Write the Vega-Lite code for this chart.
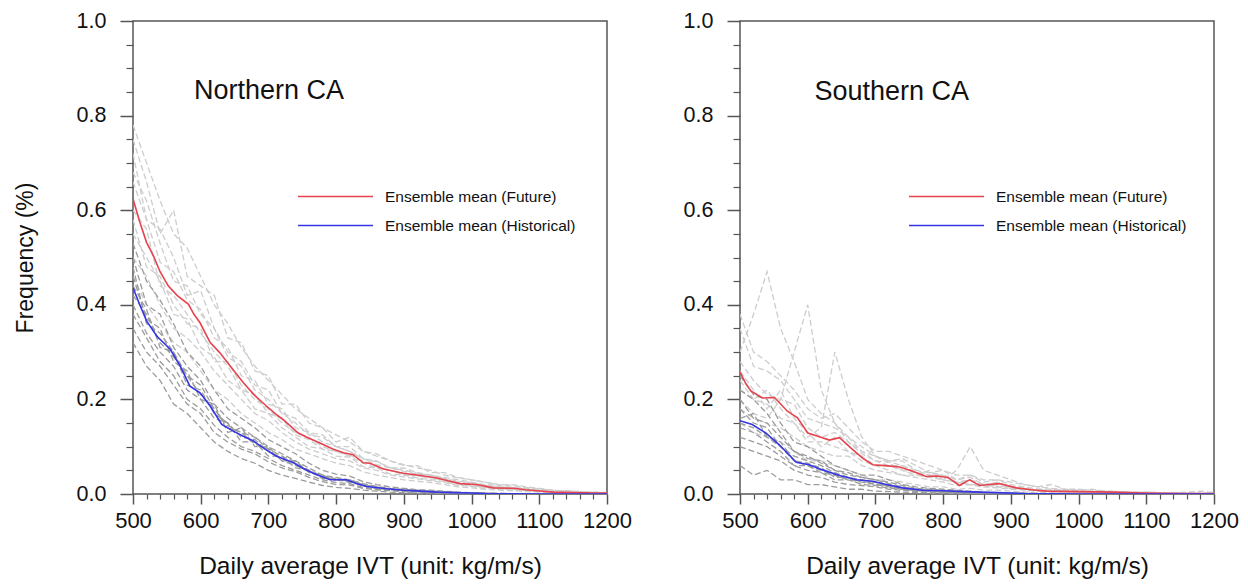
{
 "$schema": "https://vega.github.io/schema/vega-lite/v6.json",
 "background": "white",
 "padding": {"left": 13, "top": 9, "right": 5, "bottom": 2},
 "datasets": {
  "labels": [{"panel": "N", "name": "Northern CA"}, {"panel": "S", "name": "Southern CA"}],
  "means": [
   {"panel": "N", "series": "Ensemble mean (Future)", "x": [500,510,520,530,540,552,565,582,590,599,614,628,645,663,680,697,710,722,744,760,776,795,811,825,840,850,870,899,925,949,965,983,1007,1032,1062,1080,1096,1121,1150,1180,1200], "y": [0.624,0.575,0.532,0.504,0.47,0.44,0.42,0.401,0.38,0.362,0.32,0.299,0.268,0.235,0.208,0.186,0.17,0.157,0.129,0.118,0.108,0.095,0.087,0.083,0.066,0.065,0.053,0.044,0.039,0.034,0.028,0.022,0.02,0.013,0.012,0.009,0.007,0.004,0.003,0.002,0.002]},
   {"panel": "N", "series": "Ensemble mean (Historical)", "x": [500,510,520,535,555,570,584,599,614,631,648,663,678,695,712,737,750,766,791,815,830,845,875,900,924,950,973,1000,1020,1060,1100,1200], "y": [0.436,0.4,0.366,0.334,0.306,0.27,0.228,0.214,0.186,0.147,0.133,0.122,0.112,0.095,0.08,0.066,0.055,0.044,0.03,0.03,0.022,0.016,0.011,0.008,0.006,0.004,0.003,0.002,0.001,0.0005,0,0]},
   {"panel": "S", "series": "Ensemble mean (Future)", "x": [500,508,516,533,551,570,585,600,615,632,647,664,681,696,714,736,755,775,790,807,824,839,854,868,883,908,930,952,1000,1050,1098,1150,1200], "y": [0.258,0.235,0.218,0.203,0.204,0.175,0.161,0.129,0.122,0.114,0.119,0.097,0.076,0.062,0.06,0.057,0.048,0.037,0.038,0.035,0.018,0.03,0.018,0.02,0.022,0.013,0.009,0.006,0.005,0.004,0.002,0.001,0.001]},
   {"panel": "S", "series": "Ensemble mean (Historical)", "x": [500,518,538,558,583,602,622,647,672,696,716,740,770,800,830,879,920,1000,1200], "y": [0.155,0.147,0.129,0.104,0.067,0.062,0.051,0.039,0.03,0.027,0.02,0.013,0.008,0.007,0.005,0.003,0.001,0,0]}
  ],
  "members": [
   {"panel":"N","grp":"F","id":"NF1","x":[500,520,540,560,580,600,620,640,660,680,700,720,740,760,780,800,820,840,860,880,900,920,940,960,980,1000,1020,1040,1060,1080,1100,1120,1140,1160,1180,1200],"y":[0.78,0.70,0.62,0.55,0.52,0.46,0.40,0.36,0.31,0.27,0.24,0.21,0.18,0.16,0.14,0.125,0.11,0.09,0.085,0.07,0.062,0.055,0.05,0.04,0.034,0.03,0.025,0.02,0.018,0.014,0.011,0.008,0.006,0.005,0.004,0.003]},
   {"panel":"N","grp":"F","id":"NF2","x":[500,520,540,560,580,600,620,640,660,680,700,720,740,760,780,800,820,840,860,880,900,920,940,960,980,1000,1020,1040,1060,1080,1100,1120,1140,1160,1180,1200],"y":[0.46,0.40,0.36,0.32,0.30,0.26,0.22,0.20,0.17,0.15,0.13,0.115,0.095,0.085,0.075,0.065,0.06,0.047,0.04,0.035,0.03,0.027,0.024,0.02,0.015,0.013,0.01,0.008,0.007,0.005,0.004,0.002,0.002,0.001,0.001,0.001]},
   {"panel":"N","grp":"F","id":"NF3","x":[500,520,540,560,580,600,620,640,660,680,700,720,740,760,780,800,820,840,860,880,900,920,940,960,980,1000,1020,1040,1060,1080,1100,1120,1140,1160,1180,1200],"y":[0.66,0.58,0.49,0.47,0.41,0.39,0.33,0.31,0.25,0.24,0.19,0.18,0.14,0.13,0.11,0.10,0.09,0.075,0.062,0.055,0.048,0.042,0.04,0.032,0.025,0.022,0.018,0.014,0.013,0.01,0.008,0.005,0.004,0.003,0.003,0.002]},
   {"panel":"N","grp":"F","id":"NF4","x":[500,520,540,560,580,600,620,640,660,680,700,720,740,760,780,800,820,840,860,880,900,920,940,960,980,1000,1020,1040,1060,1080,1100,1120,1140,1160,1180,1200],"y":[0.55,0.50,0.45,0.38,0.37,0.31,0.29,0.24,0.22,0.18,0.17,0.14,0.12,0.10,0.095,0.08,0.078,0.058,0.055,0.042,0.04,0.034,0.03,0.026,0.02,0.017,0.014,0.011,0.01,0.007,0.006,0.004,0.003,0.002,0.002,0.001]},
   {"panel":"N","grp":"F","id":"NF5","x":[500,520,540,560,580,600,620,640,660,680,700,720,740,760,780,800,820,840,860,880,900,920,940,960,980,1000,1020,1040,1060,1080,1100,1120,1140,1160,1180,1200],"y":[0.72,0.58,0.56,0.50,0.42,0.43,0.35,0.30,0.28,0.23,0.22,0.17,0.16,0.13,0.125,0.10,0.10,0.075,0.07,0.055,0.055,0.045,0.04,0.035,0.03,0.025,0.02,0.018,0.014,0.012,0.009,0.007,0.005,0.004,0.003,0.003]},
   {"panel":"N","grp":"F","id":"NF6","x":[500,520,540,560,580,600,620,640,660,680,700,720,740,760,780,800,820,840,860,880,900,920,940,960,980,1000,1020,1040,1060,1080,1100,1120,1140,1160,1180,1200],"y":[0.60,0.56,0.44,0.42,0.38,0.34,0.30,0.27,0.22,0.21,0.17,0.16,0.125,0.115,0.095,0.09,0.08,0.065,0.055,0.05,0.04,0.04,0.032,0.03,0.022,0.02,0.015,0.013,0.011,0.009,0.006,0.004,0.003,0.003,0.002,0.002]},
   {"panel":"N","grp":"F","id":"NF7","x":[500,520,540,560,580,600,620,640,660,680,700,720,740,760,780,800,820,840,860,880,900,920,940,960,980,1000,1020,1040,1060,1080,1100,1120,1140,1160,1180,1200],"y":[0.68,0.62,0.53,0.45,0.44,0.38,0.35,0.29,0.27,0.22,0.20,0.17,0.15,0.125,0.12,0.1,0.09,0.074,0.068,0.056,0.05,0.044,0.04,0.033,0.027,0.024,0.018,0.016,0.013,0.01,0.008,0.005,0.004,0.003,0.002,0.002]},
   {"panel":"N","grp":"F","id":"NF8","x":[500,520,540,560,580,600,620,640,660,680,700,720,740,760,780,800,820,840,860,880,900,920,940,960,980,1000,1020,1040,1060,1080,1100,1120,1140,1160,1180,1200],"y":[0.50,0.46,0.40,0.35,0.33,0.30,0.26,0.23,0.20,0.17,0.155,0.13,0.11,0.095,0.085,0.075,0.07,0.055,0.05,0.04,0.036,0.032,0.028,0.024,0.018,0.016,0.012,0.01,0.009,0.007,0.005,0.003,0.002,0.002,0.001,0.001]},
   {"panel":"N","grp":"F","id":"NF9","x":[500,520,540,560,580,600,620,640,660,680,700,720,740,760,780,800,820,840,860,880,900,920,940,960,980,1000,1020,1040,1060,1080,1100,1120,1140,1160,1180,1200],"y":[0.75,0.66,0.55,0.60,0.46,0.44,0.42,0.33,0.32,0.26,0.25,0.19,0.19,0.15,0.14,0.11,0.12,0.09,0.08,0.07,0.06,0.06,0.045,0.045,0.035,0.03,0.025,0.02,0.02,0.015,0.012,0.008,0.007,0.005,0.004,0.003]},
   {"panel":"N","grp":"F","id":"NF10","x":[500,520,540,560,580,600,620,640,660,680,700,720,740,760,780,800,820,840,860,880,900,920,940,960,980,1000,1020,1040,1060,1080,1100,1120,1140,1160,1180,1200],"y":[0.58,0.48,0.46,0.40,0.36,0.35,0.28,0.28,0.23,0.20,0.18,0.15,0.13,0.12,0.10,0.09,0.082,0.07,0.058,0.05,0.043,0.038,0.035,0.028,0.022,0.02,0.016,0.012,0.012,0.008,0.006,0.004,0.003,0.002,0.002,0.001]},
   {"panel":"N","grp":"H","id":"NH1","x":[500,520,540,560,580,600,620,640,660,680,700,720,740,760,780,800,820,840,860,880,900,920,940,960,980,1000,1020,1040,1060,1080,1100,1120,1140,1160,1180,1200],"y":[0.53,0.45,0.41,0.36,0.30,0.27,0.22,0.18,0.16,0.14,0.115,0.10,0.085,0.065,0.05,0.042,0.038,0.026,0.02,0.015,0.012,0.009,0.008,0.006,0.004,0.003,0.002,0.002,0.001,0.001,0.001,0,0,0,0,0]},
   {"panel":"N","grp":"H","id":"NH2","x":[500,520,540,560,580,600,620,640,660,680,700,720,740,760,780,800,820,840,860,880,900,920,940,960,980,1000,1020,1040,1060,1080,1100,1120,1140,1160,1180,1200],"y":[0.35,0.30,0.27,0.23,0.19,0.17,0.13,0.11,0.095,0.085,0.068,0.055,0.047,0.035,0.026,0.02,0.019,0.012,0.009,0.007,0.005,0.004,0.003,0.002,0.002,0.001,0.001,0,0,0,0,0,0,0,0,0]},
   {"panel":"N","grp":"H","id":"NH3","x":[500,520,540,560,580,600,620,640,660,680,700,720,740,760,780,800,820,840,860,880,900,920,940,960,980,1000,1020,1040,1060,1080,1100,1120,1140,1160,1180,1200],"y":[0.46,0.37,0.35,0.28,0.26,0.20,0.19,0.13,0.14,0.10,0.10,0.07,0.07,0.045,0.04,0.028,0.03,0.016,0.015,0.009,0.009,0.005,0.006,0.003,0.003,0.001,0.002,0.001,0,0,0,0,0,0,0,0]},
   {"panel":"N","grp":"H","id":"NH4","x":[500,520,540,560,580,600,620,640,660,680,700,720,740,760,780,800,820,840,860,880,900,920,940,960,980,1000,1020,1040,1060,1080,1100,1120,1140,1160,1180,1200],"y":[0.40,0.34,0.30,0.27,0.22,0.20,0.16,0.15,0.11,0.11,0.08,0.08,0.055,0.05,0.032,0.033,0.024,0.02,0.011,0.011,0.007,0.007,0.004,0.004,0.002,0.002,0.001,0.001,0.001,0,0,0,0,0,0,0]},
   {"panel":"N","grp":"H","id":"NH5","x":[500,520,540,560,580,600,620,640,660,680,700,720,740,760,780,800,820,840,860,880,900,920,940,960,980,1000,1020,1040,1060,1080,1100,1120,1140,1160,1180,1200],"y":[0.50,0.40,0.38,0.31,0.27,0.24,0.19,0.16,0.14,0.12,0.10,0.085,0.07,0.055,0.04,0.035,0.03,0.022,0.016,0.012,0.01,0.008,0.006,0.005,0.003,0.003,0.002,0.001,0.001,0.001,0,0,0,0,0,0]},
   {"panel":"N","grp":"H","id":"NH6","x":[500,520,540,560,580,600,620,640,660,680,700,720,740,760,780,800,820,840,860,880,900,920,940,960,980,1000,1020,1040,1060,1080,1100,1120,1140,1160,1180,1200],"y":[0.38,0.33,0.28,0.25,0.20,0.18,0.145,0.12,0.10,0.09,0.075,0.06,0.05,0.04,0.03,0.024,0.022,0.014,0.01,0.008,0.006,0.005,0.004,0.003,0.002,0.001,0.001,0,0,0,0,0,0,0,0,0]},
   {"panel":"N","grp":"H","id":"NH7","x":[500,520,540,560,580,600,620,640,660,680,700,720,740,760,780,800,820,840,860,880,900,920,940,960,980,1000,1020,1040,1060,1080,1100,1120,1140,1160,1180,1200],"y":[0.44,0.39,0.31,0.30,0.23,0.22,0.17,0.15,0.12,0.115,0.09,0.075,0.065,0.048,0.038,0.03,0.028,0.019,0.014,0.01,0.008,0.006,0.005,0.004,0.003,0.002,0.001,0.001,0,0,0,0,0,0,0,0]},
   {"panel":"N","grp":"H","id":"NH8","x":[500,520,540,560,580,600,620,640,660,680,700,720,740,760,780,800,820,840,860,880,900,920,940,960,980,1000,1020,1040,1060,1080,1100,1120,1140,1160,1180,1200],"y":[0.32,0.27,0.24,0.19,0.17,0.14,0.11,0.09,0.075,0.065,0.05,0.04,0.033,0.025,0.018,0.014,0.012,0.008,0.006,0.004,0.003,0.002,0.002,0.001,0.001,0,0,0,0,0,0,0,0,0,0,0]},
   {"panel":"N","grp":"H","id":"NH9","x":[500,520,540,560,580,600,620,640,660,680,700,720,740,760,780,800,820,840,860,880,900,920,940,960,980,1000,1020,1040,1060,1080,1100,1120,1140,1160,1180,1200],"y":[0.48,0.36,0.34,0.30,0.25,0.21,0.18,0.14,0.13,0.105,0.095,0.07,0.06,0.05,0.035,0.03,0.026,0.018,0.012,0.01,0.007,0.006,0.004,0.004,0.002,0.002,0.001,0.001,0,0,0,0,0,0,0,0]},
   {"panel":"N","grp":"H","id":"NH10","x":[500,520,540,560,580,600,620,640,660,680,700,720,740,760,780,800,820,840,860,880,900,920,940,960,980,1000,1020,1040,1060,1080,1100,1120,1140,1160,1180,1200],"y":[0.42,0.38,0.32,0.29,0.25,0.23,0.18,0.145,0.13,0.12,0.095,0.08,0.068,0.05,0.038,0.032,0.03,0.02,0.014,0.011,0.009,0.007,0.005,0.004,0.003,0.002,0.001,0.001,0.001,0,0,0,0,0,0,0]},
   {"panel":"S","grp":"F","id":"SF1","x":[500,520,540,560,580,600,620,640,660,680,700,720,740,760,780,800,820,840,860,880,900,920,940,960,980,1000,1020,1040,1060,1080,1100,1120,1140,1160,1180,1200],"y":[0.30,0.38,0.47,0.35,0.28,0.20,0.17,0.15,0.12,0.10,0.08,0.07,0.07,0.05,0.045,0.04,0.03,0.035,0.02,0.025,0.015,0.012,0.01,0.008,0.006,0.005,0.004,0.004,0.003,0.003,0.002,0.002,0.001,0.002,0.001,0.001]},
   {"panel":"S","grp":"F","id":"SF2","x":[500,520,540,560,580,600,620,640,660,680,700,720,740,760,780,800,820,840,860,880,900,920,940,960,980,1000,1020,1040,1060,1080,1100,1120,1140,1160,1180,1200],"y":[0.20,0.17,0.16,0.20,0.30,0.40,0.22,0.15,0.11,0.09,0.07,0.06,0.06,0.045,0.04,0.03,0.025,0.03,0.02,0.015,0.012,0.01,0.008,0.006,0.005,0.004,0.004,0.003,0.002,0.002,0.002,0.001,0.001,0.001,0.001,0.001]},
   {"panel":"S","grp":"F","id":"SF3","x":[500,520,540,560,580,600,620,640,660,680,700,720,740,760,780,800,820,840,860,880,900,920,940,960,980,1000,1020,1040,1060,1080,1100,1120,1140,1160,1180,1200],"y":[0.24,0.20,0.19,0.16,0.15,0.12,0.14,0.30,0.20,0.12,0.08,0.065,0.05,0.04,0.05,0.03,0.025,0.02,0.015,0.02,0.012,0.01,0.007,0.006,0.006,0.004,0.003,0.004,0.002,0.002,0.001,0.001,0.001,0.001,0.001,0.001]},
   {"panel":"S","grp":"F","id":"SF4","x":[500,520,540,560,580,600,620,640,660,680,700,720,740,760,780,800,820,840,860,880,900,920,940,960,980,1000,1020,1040,1060,1080,1100,1120,1140,1160,1180,1200],"y":[0.15,0.13,0.12,0.11,0.09,0.07,0.07,0.06,0.05,0.04,0.03,0.03,0.025,0.02,0.015,0.015,0.01,0.012,0.008,0.008,0.006,0.004,0.003,0.003,0.002,0.002,0.001,0.001,0.001,0,0,0,0,0,0,0]},
   {"panel":"S","grp":"F","id":"SF5","x":[500,520,540,560,580,600,620,640,660,680,700,720,740,760,780,800,820,840,860,880,900,920,940,960,980,1000,1020,1040,1060,1080,1100,1120,1140,1160,1180,1200],"y":[0.35,0.27,0.26,0.24,0.20,0.16,0.15,0.14,0.12,0.09,0.08,0.07,0.075,0.06,0.045,0.05,0.03,0.04,0.025,0.03,0.02,0.015,0.01,0.01,0.008,0.007,0.005,0.006,0.004,0.003,0.003,0.002,0.002,0.002,0.001,0.001]},
   {"panel":"S","grp":"F","id":"SF6","x":[500,520,540,560,580,600,620,640,660,680,700,720,740,760,780,800,820,840,860,880,900,920,940,960,980,1000,1020,1040,1060,1080,1100,1120,1140,1160,1180,1200],"y":[0.22,0.20,0.22,0.18,0.15,0.11,0.11,0.10,0.09,0.07,0.06,0.05,0.04,0.04,0.035,0.03,0.05,0.10,0.05,0.04,0.03,0.02,0.015,0.02,0.01,0.008,0.01,0.006,0.005,0.004,0.004,0.003,0.003,0.004,0.006,0.003]},
   {"panel":"S","grp":"F","id":"SF7","x":[500,520,540,560,580,600,620,640,660,680,700,720,740,760,780,800,820,840,860,880,900,920,940,960,980,1000,1020,1040,1060,1080,1100,1120,1140,1160,1180,1200],"y":[0.28,0.24,0.21,0.20,0.19,0.14,0.12,0.13,0.11,0.085,0.07,0.068,0.06,0.05,0.04,0.04,0.022,0.03,0.02,0.022,0.015,0.012,0.008,0.008,0.006,0.006,0.005,0.004,0.003,0.003,0.002,0.002,0.001,0.001,0.001,0.001]},
   {"panel":"S","grp":"F","id":"SF8","x":[500,520,540,560,580,600,620,640,660,680,700,720,740,760,780,800,820,840,860,880,900,920,940,960,980,1000,1020,1040,1060,1080,1100,1120,1140,1160,1180,1200],"y":[0.38,0.30,0.28,0.25,0.22,0.18,0.16,0.17,0.14,0.11,0.09,0.09,0.08,0.07,0.06,0.05,0.04,0.04,0.03,0.03,0.025,0.02,0.015,0.012,0.01,0.01,0.008,0.006,0.005,0.004,0.004,0.003,0.003,0.002,0.002,0.002]},
   {"panel":"S","grp":"F","id":"SF9","x":[500,520,540,560,580,600,620,640,660,680,700,720,740,760,780,800,820,840,860,880,900,920,940,960,980,1000,1020,1040,1060,1080,1100,1120,1140,1160,1180,1200],"y":[0.18,0.16,0.15,0.14,0.12,0.10,0.09,0.08,0.08,0.06,0.05,0.045,0.04,0.035,0.03,0.025,0.018,0.02,0.015,0.013,0.01,0.008,0.006,0.005,0.004,0.003,0.003,0.002,0.002,0.001,0.001,0.001,0,0,0,0]},
   {"panel":"S","grp":"F","id":"SF10","x":[500,520,540,560,580,600,620,640,660,680,700,720,740,760,780,800,820,840,860,880,900,920,940,960,980,1000,1020,1040,1060,1080,1100,1120,1140,1160,1180,1200],"y":[0.26,0.22,0.18,0.22,0.16,0.13,0.10,0.12,0.09,0.08,0.06,0.06,0.05,0.045,0.035,0.04,0.025,0.02,0.02,0.015,0.015,0.01,0.008,0.006,0.004,0.004,0.003,0.003,0.002,0.002,0.001,0.001,0.001,0.001,0.001,0]},
   {"panel":"S","grp":"H","id":"SH1","x":[500,520,540,560,580,600,620,640,660,680,700,720,740,760,780,800,820,840,860,880,900,920,940,960,980,1000,1020,1040,1060,1080,1100,1120,1140,1160,1180,1200],"y":[0.22,0.20,0.17,0.13,0.09,0.08,0.065,0.05,0.04,0.035,0.03,0.022,0.015,0.01,0.008,0.007,0.005,0.004,0.003,0.002,0.001,0.001,0,0,0,0,0,0,0,0,0,0,0,0,0,0]},
   {"panel":"S","grp":"H","id":"SH2","x":[500,520,540,560,580,600,620,640,660,680,700,720,740,760,780,800,820,840,860,880,900,920,940,960,980,1000,1020,1040,1060,1080,1100,1120,1140,1160,1180,1200],"y":[0.10,0.09,0.08,0.07,0.05,0.04,0.035,0.025,0.02,0.018,0.015,0.01,0.008,0.005,0.004,0.004,0.003,0.002,0.001,0.001,0,0,0,0,0,0,0,0,0,0,0,0,0,0,0,0]},
   {"panel":"S","grp":"H","id":"SH3","x":[500,520,540,560,580,600,620,640,660,680,700,720,740,760,780,800,820,840,860,880,900,920,940,960,980,1000,1020,1040,1060,1080,1100,1120,1140,1160,1180,1200],"y":[0.18,0.15,0.14,0.10,0.08,0.07,0.06,0.045,0.035,0.03,0.025,0.02,0.013,0.01,0.008,0.007,0.006,0.004,0.003,0.002,0.001,0.001,0,0,0,0,0,0,0,0,0,0,0,0,0,0]},
   {"panel":"S","grp":"H","id":"SH4","x":[500,520,540,560,580,600,620,640,660,680,700,720,740,760,780,800,820,840,860,880,900,920,940,960,980,1000,1020,1040,1060,1080,1100,1120,1140,1160,1180,1200],"y":[0.25,0.21,0.20,0.15,0.11,0.10,0.08,0.06,0.05,0.04,0.04,0.03,0.02,0.015,0.012,0.01,0.008,0.006,0.004,0.003,0.002,0.002,0.001,0.001,0,0,0,0,0,0,0,0,0,0,0,0]},
   {"panel":"S","grp":"H","id":"SH5","x":[500,520,540,560,580,600,620,640,660,680,700,720,740,760,780,800,820,840,860,880,900,920,940,960,980,1000,1020,1040,1060,1080,1100,1120,1140,1160,1180,1200],"y":[0.14,0.13,0.11,0.09,0.06,0.06,0.045,0.04,0.03,0.025,0.02,0.015,0.01,0.008,0.006,0.005,0.004,0.003,0.002,0.001,0.001,0,0,0,0,0,0,0,0,0,0,0,0,0,0,0]},
   {"panel":"S","grp":"H","id":"SH6","x":[500,520,540,560,580,600,620,640,660,680,700,720,740,760,780,800,820,840,860,880,900,920,940,960,980,1000,1020,1040,1060,1080,1100,1120,1140,1160,1180,1200],"y":[0.16,0.17,0.12,0.11,0.07,0.065,0.055,0.035,0.035,0.025,0.025,0.015,0.014,0.008,0.007,0.005,0.005,0.003,0.002,0.002,0.001,0,0,0,0,0,0,0,0,0,0,0,0,0,0,0]},
   {"panel":"S","grp":"H","id":"SH7","x":[500,520,540,560,580,600,620,640,660,680,700,720,740,760,780,800,820,840,860,880,900,920,940,960,980,1000,1020,1040,1060,1080,1100,1120,1140,1160,1180,1200],"y":[0.06,0.04,0.05,0.03,0.03,0.02,0.02,0.015,0.01,0.01,0.006,0.005,0.004,0.003,0.002,0.002,0.001,0.001,0,0,0,0,0,0,0,0,0,0,0,0,0,0,0,0,0,0]},
   {"panel":"S","grp":"H","id":"SH8","x":[500,520,540,560,580,600,620,640,660,680,700,720,740,760,780,800,820,840,860,880,900,920,940,960,980,1000,1020,1040,1060,1080,1100,1120,1140,1160,1180,1200],"y":[0.20,0.16,0.15,0.12,0.09,0.075,0.07,0.05,0.045,0.035,0.03,0.025,0.018,0.012,0.01,0.008,0.006,0.005,0.003,0.002,0.002,0.001,0.001,0,0,0,0,0,0,0,0,0,0,0,0,0]},
   {"panel":"S","grp":"H","id":"SH9","x":[500,520,540,560,580,600,620,640,660,680,700,720,740,760,780,800,820,840,860,880,900,920,940,960,980,1000,1020,1040,1060,1080,1100,1120,1140,1160,1180,1200],"y":[0.12,0.11,0.10,0.08,0.06,0.05,0.045,0.03,0.03,0.02,0.018,0.012,0.01,0.007,0.005,0.004,0.003,0.002,0.001,0.001,0,0,0,0,0,0,0,0,0,0,0,0,0,0,0,0]},
   {"panel":"S","grp":"H","id":"SH10","x":[500,520,540,560,580,600,620,640,660,680,700,720,740,760,780,800,820,840,860,880,900,920,940,960,980,1000,1020,1040,1060,1080,1100,1120,1140,1160,1180,1200],"y":[0.15,0.14,0.12,0.10,0.07,0.06,0.05,0.04,0.03,0.03,0.02,0.018,0.012,0.009,0.007,0.006,0.004,0.003,0.002,0.001,0.001,0,0,0,0,0,0,0,0,0,0,0,0,0,0,0]}
  ]
 },
 "spacing": 49,
 "hconcat": [
  {
   "width": 474, "height": 473,
   "layer": [
    {"data": {"name": "members"}, "transform": [{"filter": "datum.panel === 'N' && datum.grp === 'F'"}, {"flatten": ["x", "y"]}],
     "mark": {"type": "line", "color": "#cdcdcd", "strokeWidth": 1.3, "strokeDash": [6, 3], "clip": true},
     "encoding": {
      "x": {"field": "x", "type": "quantitative", "scale": {"domain": [500, 1200], "nice": false, "zero": false},
            "axis": {"orient": "bottom", "values": [500,600,700,800,900,1000,1100,1200], "format": "d", "tickSize": 10, "tickWidth": 1.5, "tickColor": "#555", "domain": false, "grid": false, "labelFontSize": 22, "labelPadding": 6, "labelColor": "#111", "labelFont": "Liberation Sans", "labelFlush": false, "labelOverlap": false, "title": "Daily average IVT (unit: kg/m/s)", "titleFont": "Liberation Sans", "titleFontSize": 24.5, "titleFontWeight": "normal", "titleColor": "#111", "titlePadding": 23}},
      "y": {"field": "y", "type": "quantitative", "scale": {"domain": [0, 1], "nice": false},
            "axis": {"orient": "left", "values": [0,0.2,0.4,0.6,0.8,1], "format": ".1f", "tickSize": 13, "tickWidth": 1.5, "tickColor": "#555", "domain": false, "grid": false, "labelFontSize": 21.5, "labelPadding": 14, "labelColor": "#111", "labelFont": "Liberation Sans", "labelFlush": false, "labelOverlap": false, "title": "Frequency (%)", "titleFont": "Liberation Sans", "titleFontSize": 23, "titleFontWeight": "normal", "titleColor": "#111", "titlePadding": 39}},
      "detail": {"field": "id"}}},
    {"data": {"name": "members"}, "transform": [{"filter": "datum.panel === 'N' && datum.grp === 'H'"}, {"flatten": ["x", "y"]}],
     "mark": {"type": "line", "color": "#9c9c9c", "strokeWidth": 1.3, "strokeDash": [6, 3], "clip": true},
     "encoding": {
      "x": {"field": "x", "type": "quantitative", "axis": null},
      "y": {"field": "y", "type": "quantitative", "axis": null},
      "detail": {"field": "id"}}},
    {"data": {"name": "means"}, "transform": [{"filter": "datum.panel === 'N'"}, {"flatten": ["x", "y"]}],
     "mark": {"type": "line", "strokeWidth": 1.6, "clip": true},
     "encoding": {
      "x": {"field": "x", "type": "quantitative", "axis": {"orient": "bottom", "values": [520,540,560,580,620,640,660,680,720,740,760,780,820,840,860,880,920,940,960,980,1020,1040,1060,1080,1120,1140,1160,1180], "tickSize": 5, "tickWidth": 1.2, "tickColor": "#555", "labels": false, "domain": false, "grid": false, "title": null}},
      "y": {"field": "y", "type": "quantitative", "axis": {"orient": "left", "values": [0.05,0.1,0.15,0.25,0.3,0.35,0.45,0.5,0.55,0.65,0.7,0.75,0.85,0.9,0.95], "tickSize": 7, "tickWidth": 1.2, "tickColor": "#555", "labels": false, "domain": false, "grid": false, "title": null}},
      "color": {"field": "series", "type": "nominal", "scale": {"domain": ["Ensemble mean (Future)", "Ensemble mean (Historical)"], "range": ["#e6434e", "#3535e4"]},
                "legend": {"orient": "none", "legendX": 194, "legendY": 167, "title": null, "padding": 0, "symbolType": "M-5,0H5", "symbolSize": 225, "symbolStrokeWidth": 1.6, "labelFontSize": 15.5, "labelFont": "Liberation Sans", "labelColor": "#111", "labelOffset": 41, "labelLimit": 400, "rowPadding": 12}}}},
    {"data": {"name": "labels"}, "transform": [{"filter": "datum.panel === 'N'"}],
     "mark": {"type": "text", "align": "left", "baseline": "middle", "fontSize": 27, "font": "Liberation Sans", "color": "#111"},
     "encoding": {
      "x": {"datum": 590, "type": "quantitative", "axis": null},
      "y": {"datum": 0.853, "type": "quantitative", "axis": null},
      "text": {"field": "name"}}}
   ],
   "resolve": {"axis": {"x": "independent", "y": "independent"}}
  },
  {
   "width": 474, "height": 473,
   "layer": [
    {"data": {"name": "members"}, "transform": [{"filter": "datum.panel === 'S' && datum.grp === 'F'"}, {"flatten": ["x", "y"]}],
     "mark": {"type": "line", "color": "#cdcdcd", "strokeWidth": 1.3, "strokeDash": [6, 3], "clip": true},
     "encoding": {
      "x": {"field": "x", "type": "quantitative", "scale": {"domain": [500, 1200], "nice": false, "zero": false},
            "axis": {"orient": "bottom", "values": [500,600,700,800,900,1000,1100,1200], "format": "d", "tickSize": 10, "tickWidth": 1.5, "tickColor": "#555", "domain": false, "grid": false, "labelFontSize": 22, "labelPadding": 6, "labelColor": "#111", "labelFont": "Liberation Sans", "labelFlush": false, "labelOverlap": false, "title": "Daily average IVT (unit: kg/m/s)", "titleFont": "Liberation Sans", "titleFontSize": 24.5, "titleFontWeight": "normal", "titleColor": "#111", "titlePadding": 23}},
      "y": {"field": "y", "type": "quantitative", "scale": {"domain": [0, 1], "nice": false},
            "axis": {"orient": "left", "values": [0,0.2,0.4,0.6,0.8,1], "format": ".1f", "tickSize": 13, "tickWidth": 1.5, "tickColor": "#555", "domain": false, "grid": false, "labelFontSize": 21.5, "labelPadding": 14, "labelColor": "#111", "labelFont": "Liberation Sans", "labelFlush": false, "labelOverlap": false, "title": null}},
      "detail": {"field": "id"}}},
    {"data": {"name": "members"}, "transform": [{"filter": "datum.panel === 'S' && datum.grp === 'H'"}, {"flatten": ["x", "y"]}],
     "mark": {"type": "line", "color": "#9c9c9c", "strokeWidth": 1.3, "strokeDash": [6, 3], "clip": true},
     "encoding": {
      "x": {"field": "x", "type": "quantitative", "axis": null},
      "y": {"field": "y", "type": "quantitative", "axis": null},
      "detail": {"field": "id"}}},
    {"data": {"name": "means"}, "transform": [{"filter": "datum.panel === 'S'"}, {"flatten": ["x", "y"]}],
     "mark": {"type": "line", "strokeWidth": 1.6, "clip": true},
     "encoding": {
      "x": {"field": "x", "type": "quantitative", "axis": {"orient": "bottom", "values": [520,540,560,580,620,640,660,680,720,740,760,780,820,840,860,880,920,940,960,980,1020,1040,1060,1080,1120,1140,1160,1180], "tickSize": 5, "tickWidth": 1.2, "tickColor": "#555", "labels": false, "domain": false, "grid": false, "title": null}},
      "y": {"field": "y", "type": "quantitative", "axis": {"orient": "left", "values": [0.05,0.1,0.15,0.25,0.3,0.35,0.45,0.5,0.55,0.65,0.7,0.75,0.85,0.9,0.95], "tickSize": 7, "tickWidth": 1.2, "tickColor": "#555", "labels": false, "domain": false, "grid": false, "title": null}},
      "color": {"field": "series", "type": "nominal", "scale": {"domain": ["Ensemble mean (Future)", "Ensemble mean (Historical)"], "range": ["#e6434e", "#3535e4"]},
                "legend": {"orient": "none", "legendX": 198, "legendY": 167, "title": null, "padding": 0, "symbolType": "M-5,0H5", "symbolSize": 225, "symbolStrokeWidth": 1.6, "labelFontSize": 15.5, "labelFont": "Liberation Sans", "labelColor": "#111", "labelOffset": 41, "labelLimit": 400, "rowPadding": 12}}}},
    {"data": {"name": "labels"}, "transform": [{"filter": "datum.panel === 'S'"}],
     "mark": {"type": "text", "align": "left", "baseline": "middle", "fontSize": 27, "font": "Liberation Sans", "color": "#111"},
     "encoding": {
      "x": {"datum": 610, "type": "quantitative", "axis": null},
      "y": {"datum": 0.849, "type": "quantitative", "axis": null},
      "text": {"field": "name"}}}
   ],
   "resolve": {"axis": {"x": "independent", "y": "independent"}}
  }
 ],
 "resolve": {"scale": {"color": "independent"}, "legend": {"color": "independent"}},
 "config": {"view": {"stroke": "#555", "strokeWidth": 1.5}, "font": "Liberation Sans"}
}
